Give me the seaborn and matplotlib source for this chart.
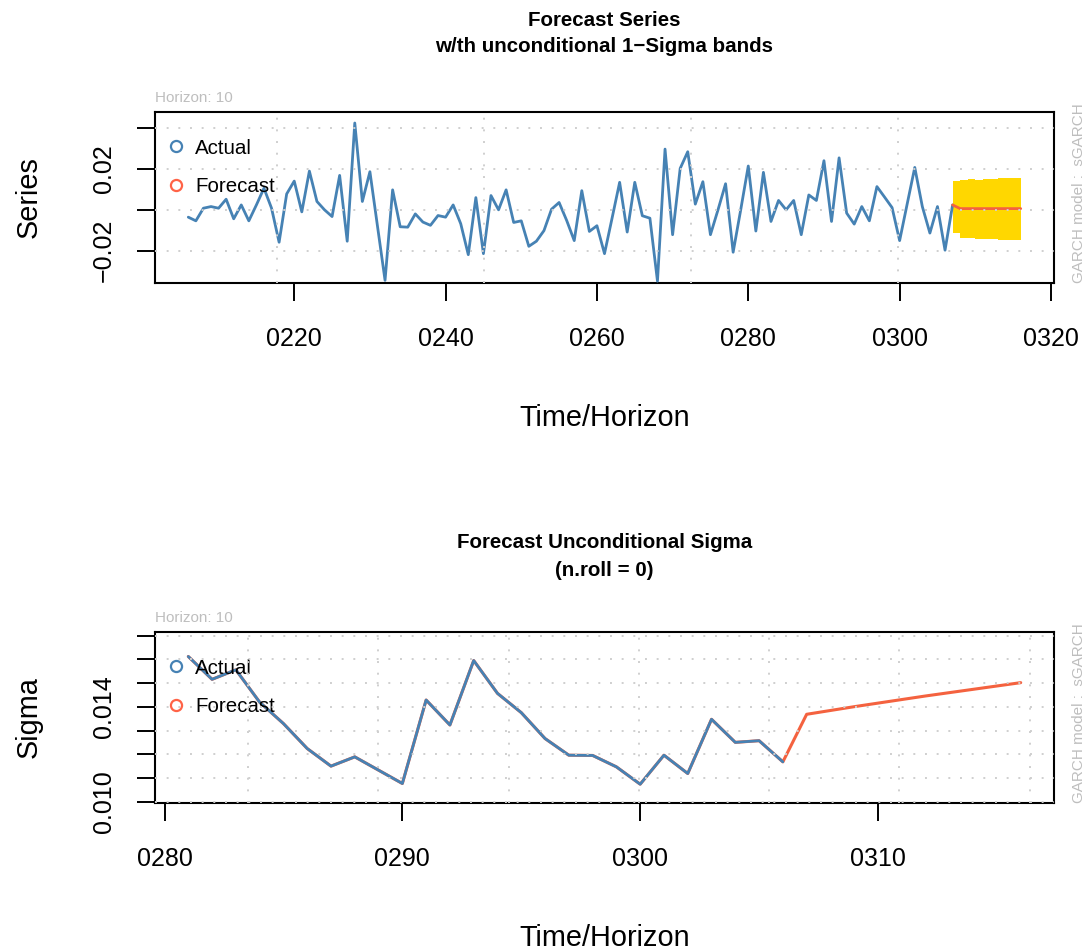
import numpy as np
import pandas as pd
import matplotlib
matplotlib.use("Agg")
import matplotlib.pyplot as plt
from matplotlib.lines import Line2D
import seaborn as sns

# ---------------- data ----------------
series_start = 206
series_actual = [
    -0.0036, -0.0054, 0.0008, 0.0016, 0.0008, 0.0052, -0.0044, 0.0024, -0.0054, 0.0024,
    0.0106, 0.0008, -0.0159, 0.0078, 0.0141, -0.0010, 0.0190, 0.0041, 0.0000, -0.0033,
    0.0169, -0.0154, 0.0426, 0.0041, 0.0187, -0.0080, -0.0346, 0.0098, -0.0083, -0.0085,
    -0.0020, -0.0060, -0.0076, -0.0028, -0.0036, 0.0024, -0.0068, -0.0220, 0.0060, -0.0215,
    0.0070, 0.0000, 0.0098, -0.0062, -0.0054, -0.0179, -0.0154, -0.0102, 0.0003, 0.0036,
    -0.0052, -0.0151, 0.0094, -0.0106, -0.0078, -0.0215, -0.0041, 0.0135, -0.0109, 0.0135,
    -0.0029, -0.0041, -0.0350, 0.0298, -0.0122, 0.0203, 0.0285, 0.0028, 0.0138, -0.0122,
    0.0000, 0.0128, -0.0208, 0.0000, 0.0215, -0.0104, 0.0184, -0.0057, 0.0046, 0.0000,
    0.0046, -0.0122, 0.0073, 0.0046, 0.0241, -0.0057, 0.0255, -0.0016, -0.0070, 0.0016,
    -0.0054, 0.0114, 0.0063, 0.0011, -0.0151, 0.0029, 0.0208, 0.0016, -0.0114, 0.0016,
    -0.0198, 0.0024,
]
forecast_start = 307
series_forecast = [0.0024, 0.0006, 0.0006, 0.0006, 0.0006, 0.0006, 0.0006, 0.0006, 0.0006, 0.0006]
band_upper = [0.0142, 0.0147, 0.0152, 0.0147, 0.0152, 0.0152, 0.0155, 0.0158, 0.0158, 0.0158]
band_lower = [-0.0114, -0.0136, -0.0139, -0.0142, -0.0142, -0.0142, -0.0147, -0.0147, -0.0147, -0.0147]

sigma_start = 281
sigma_actual = [
    0.01612, 0.01516, 0.01556, 0.01420, 0.01330, 0.01225, 0.01151, 0.01190, 0.01134, 0.01078,
    0.01429, 0.01324, 0.01595, 0.01457, 0.01376, 0.01267, 0.01197, 0.01196, 0.01148, 0.01075,
    0.01197, 0.01120, 0.01348, 0.01251, 0.01258, 0.01169,
]
sigma_forecast = [0.01369, 0.01385, 0.01401, 0.01416, 0.01431, 0.01446, 0.01460, 0.01474, 0.01488, 0.01502]

top_xticks = [220, 240, 260, 280, 300, 320]
top_xticklabels = ["0220", "0240", "0260", "0280", "0300", "0320"]
top_yticks = [-0.02, 0.0, 0.02, 0.04]
top_yticklabels = ["\u22120.02", "", "0.02", ""]
bot_xticks = [280, 290, 300, 310]
bot_xticklabels = ["0280", "0290", "0300", "0310"]
bot_yticks = [0.010, 0.011, 0.012, 0.013, 0.014, 0.015, 0.016, 0.017]
bot_yticklabels = ["0.010", "", "", "", "0.014", "", "", ""]

# ---------------- style ----------------
BLUE = "#4682B4"
RED = "#F4623F"
GOLD = "#FFD700"
GRID = "#CFCFCF"
GREY_TXT = "#BEBEBE"

sns.set_theme(style="white")
plt.rcParams['font.family'] = ['Liberation Sans', 'DejaVu Sans']
plt.rcParams['axes.unicode_minus'] = True
plt.rcParams['text.color'] = 'black'
plt.rcParams['axes.labelcolor'] = 'black'

W, H = 1090, 952
fig = plt.figure(figsize=(W / 100, H / 100), dpi=100)


def rect(l, t, r, b):
    return [l / W, 1 - b / H, (r - l) / W, (b - t) / H]


ax1 = fig.add_axes(rect(155, 112, 1054, 283))
ax2 = fig.add_axes(rect(155, 632, 1054, 803))

TICK_FS = 18
LAB_FS = 20.8
TITLE_FS = 14.8


def style_axes(ax):
    for s in ax.spines.values():
        s.set_visible(True)
        s.set_color("black")
        s.set_linewidth(1.5)
    ax.tick_params(axis="both", direction="out", length=13, width=1.4, color="black",
                   labelsize=TICK_FS, labelcolor="black", left=True, bottom=True,
                   right=False, top=False)
    ax.tick_params(axis="x", pad=19)
    ax.tick_params(axis="y", pad=15)
    ax.grid(False)


def dotted_grid(ax, xs, ys):
    for x in xs:
        ax.axvline(x, color=GRID, lw=1.4, ls=(0, (1, 5)), zorder=6)
    for y in ys:
        ax.axhline(y, color=GRID, lw=1.4, ls=(0, (1, 5)), zorder=6)


def add_legend(ax):
    handles = [
        Line2D([], [], marker="o", ls="none", mfc="none", mec=BLUE, mew=1.6, ms=8, label="Actual"),
        Line2D([], [], marker="o", ls="none", mfc="none", mec="#FF6347", mew=1.6, ms=8, label="Forecast"),
    ]
    leg = ax.legend(handles=handles, loc="upper left", bbox_to_anchor=((165.4 - 155) / 899, 0.845),
                    frameon=False, fontsize=14.8, borderpad=0, borderaxespad=0,
                    handlelength=1.0, handletextpad=0.44, labelspacing=0.95)
    for t in leg.get_texts():
        t.set_color("black")


def titles(ax, l1, l2, y1, y2, top):
    ax.text(0.5, 1 + (top - y1) / 171, l1, transform=ax.transAxes, ha="center", va="center",
            fontsize=TITLE_FS, fontweight="bold", color="black")
    ax.text(0.5, 1 + (top - y2) / 171, l2, transform=ax.transAxes, ha="center", va="center",
            fontsize=TITLE_FS, fontweight="bold", color="black")


def side_texts(ax):
    ax.text(0, 1 + 14 / 171, "Horizon: 10", transform=ax.transAxes, ha="left", va="center",
            fontsize=11, color=GREY_TXT)
    ax.text(1 + 25 / 899, 0, "GARCH model :  sGARCH", transform=ax.transAxes, rotation=90,
            ha="center", va="bottom", fontsize=11, color=GREY_TXT)


def axis_labels(ax, xlabel, ylabel):
    ax.set_xlabel(xlabel, fontsize=LAB_FS, color="black")
    ax.set_ylabel(ylabel, fontsize=LAB_FS, color="black")
    ax.xaxis.set_label_coords(0.5, -0.787)
    ax.xaxis.label.set_va("center")
    ax.yaxis.set_label_coords(-0.141, 0.5)
    ax.yaxis.label.set_va("center")


# ---------------- top panel ----------------
df_top = pd.DataFrame({"t": np.arange(series_start, series_start + len(series_actual)),
                       "v": series_actual})
df_fc = pd.DataFrame({"t": np.arange(forecast_start, forecast_start + len(series_forecast)),
                      "v": series_forecast, "up": band_upper, "lo": band_lower})

ax1.fill_between(df_fc["t"], df_fc["up"], df_fc["lo"], step="post", color=GOLD, lw=0, zorder=2)
sns.lineplot(data=df_top, x="t", y="v", ax=ax1, color=BLUE, lw=2, zorder=3)
sns.lineplot(data=df_fc, x="t", y="v", ax=ax1, color=RED, lw=2, zorder=4)

ax1.set_xlim(201.6, 320.4)
ax1.set_ylim(-0.0359, 0.0480)
dotted_grid(ax1, [217.70, 245.09, 272.45, 299.84], top_yticks)
ax1.set_xticks(top_xticks)
ax1.set_xticklabels(top_xticklabels)
ax1.set_yticks(top_yticks)
ax1.set_yticklabels(top_yticklabels, rotation=90, va="center")
style_axes(ax1)
titles(ax1, "Forecast Series", "w/th unconditional 1\u2212Sigma bands", 21, 46, 112)
side_texts(ax1)
axis_labels(ax1, "Time/Horizon", "Series")
add_legend(ax1)

# ---------------- bottom panel ----------------
t_sig_act = np.arange(sigma_start, sigma_start + len(sigma_actual))
t_sig_fc = np.arange(t_sig_act[-1] + 1, t_sig_act[-1] + 1 + len(sigma_forecast))
df_sig_all = pd.DataFrame({"t": np.concatenate([t_sig_act, t_sig_fc]),
                           "v": sigma_actual + sigma_forecast})
df_sig_act = pd.DataFrame({"t": t_sig_act, "v": sigma_actual})

sns.lineplot(data=df_sig_all, x="t", y="v", ax=ax2, color=RED, lw=2.2, zorder=3)
sns.lineplot(data=df_sig_act, x="t", y="v", ax=ax2, color=BLUE, lw=2, zorder=4)

ax2.set_xlim(279.6, 317.4)
ax2.set_ylim(0.00996, 0.01715)
dotted_grid(ax2, [283.52, 288.98, 294.47, 299.95, 305.40, 310.89, 316.37], bot_yticks)
ax2.set_xticks(bot_xticks)
ax2.set_xticklabels(bot_xticklabels)
ax2.set_yticks(bot_yticks)
ax2.set_yticklabels(bot_yticklabels, rotation=90, va="center")
style_axes(ax2)
titles(ax2, "Forecast Unconditional Sigma", "(n.roll = 0)", 543, 570, 632)
side_texts(ax2)
axis_labels(ax2, "Time/Horizon", "Sigma")
add_legend(ax2)

fig.savefig("out.png", dpi=100)
